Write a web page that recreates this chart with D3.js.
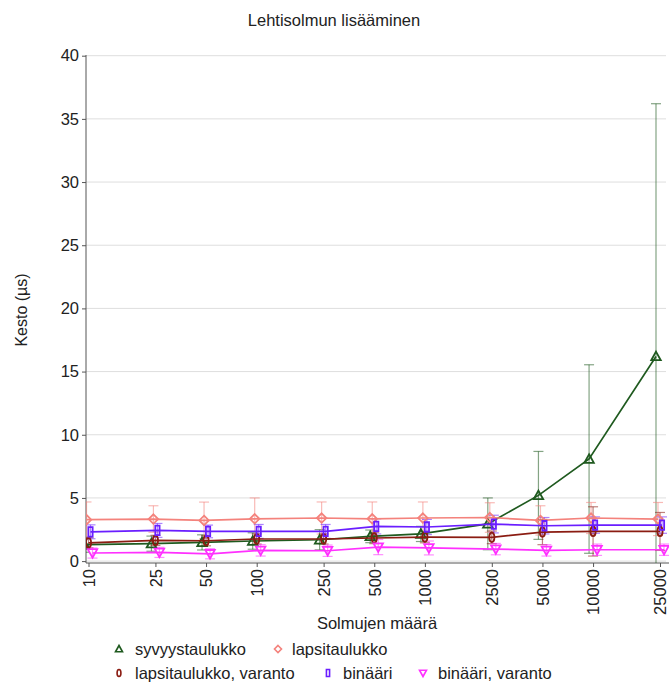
<!DOCTYPE html>
<html>
<head>
<meta charset="utf-8">
<script src="https://cdn.jsdelivr.net/npm/d3@7"></script>
<style>
  body { margin: 0; background: #fff; }
  svg { display: block; font-family: "Liberation Sans", Arial, sans-serif; }
</style>
</head>
<body>
<svg id="chart" width="669" height="682"></svg>
<script>
// Node counts on the x axis (log scale)
const nodeCounts = [10, 25, 50, 100, 250, 500, 1000, 2500, 5000, 10000, 25000];
const yTicks = [0, 5, 10, 15, 20, 25, 30, 35, 40];

// Mean durations (µs) and error half-widths per structure
const syvyysMean   = [1.30, 1.38, 1.48, 1.59, 1.69, 1.96, 2.15, 2.95, 5.20, 8.08, 16.2];
const syvyysErr    = [0.60, 0.60, 0.60, 0.65, 0.80, 0.50, 0.60, 2.05, 3.48, 7.46, 20.0];
const lapsiMean    = [3.28, 3.33, 3.22, 3.35, 3.41, 3.35, 3.41, 3.45, 3.22, 3.41, 3.33];
const lapsiErr     = [1.40, 1.05, 1.45, 1.65, 1.27, 1.33, 1.27, 1.17, 1.16, 1.23, 1.31];
const lapsiVarMean = [1.45, 1.64, 1.61, 1.75, 1.75, 1.83, 1.90, 1.88, 2.30, 2.35, 2.35];
const lapsiVarErr  = [0.40, 0.40, 0.40, 0.40, 0.40, 0.45, 0.45, 0.50, 1.00, 1.95, 1.50];
const binMean      = [2.32, 2.43, 2.35, 2.35, 2.35, 2.75, 2.70, 2.93, 2.80, 2.85, 2.85];
const binErr       = [0.55, 0.55, 0.50, 0.55, 0.55, 0.60, 0.60, 0.70, 0.65, 0.65, 0.65];
const binVarMean   = [0.64, 0.69, 0.58, 0.85, 0.82, 1.11, 1.04, 0.95, 0.85, 0.90, 0.90];
const binVarErr    = [0.40, 0.40, 0.40, 0.45, 0.45, 0.60, 0.55, 0.45, 0.45, 0.45, 0.45];

const seriesNames = ["syvyystaulukko", "lapsitaulukko", "lapsitaulukko, varanto", "binääri", "binääri, varanto"];
const seriesColors = ["#1f5a1f", "#f4827c", "#8b1c12", "#6a1eff", "#ff30ff"];
const seriesShapes = ["triUp", "diamond", "ellipse", "rect", "triDown"];

const series = seriesNames.map((name, i) => ({
  name,
  color: seriesColors[i],
  shape: seriesShapes[i],
  mean: [syvyysMean, lapsiMean, lapsiVarMean, binMean, binVarMean][i],
  err: [syvyysErr, lapsiErr, lapsiVarErr, binErr, binVarErr][i],
  dodge: (i - 2) * 2
}));

const svg = d3.select("#chart");
const plotLeft = 86, plotRight = 666, plotTop = 55, plotBottom = 563;

const x = d3.scaleLog().domain([10, 25000]).range([88.5, 660]);
const y = d3.scaleLinear().domain([-0.15, 40]).range([plotBottom, 55.7]);

// Title
svg.append("text").attr("x", 334).attr("y", 26).attr("text-anchor", "middle")
  .attr("font-size", 16.5).attr("fill", "#222").text("Lehtisolmun lisääminen");

// Gridlines
svg.append("g").selectAll("line").data(yTicks).join("line")
  .attr("x1", plotLeft).attr("x2", plotRight)
  .attr("y1", d => y(d)).attr("y2", d => y(d))
  .attr("stroke", "#dedede").attr("stroke-width", 1);

// Y axis
const yAxis = svg.append("g").attr("transform", `translate(${plotLeft},0)`)
  .call(d3.axisLeft(y).tickValues(yTicks).tickSize(4).tickPadding(3));
yAxis.select(".domain").attr("d", `M0,${plotTop}V${plotBottom}`).attr("stroke", "#555");
yAxis.selectAll(".tick line").attr("stroke", "#555");
yAxis.selectAll("text").attr("font-size", 16.5).attr("fill", "#222")
  .attr("font-family", "Liberation Sans, Arial, sans-serif");

// X axis
const xAxis = svg.append("g").attr("transform", `translate(0,${plotBottom})`)
  .call(d3.axisBottom(x).tickValues(nodeCounts).tickFormat(d3.format("d")).tickSize(4));
xAxis.select(".domain").attr("d", `M${plotLeft},0H669`).attr("stroke", "#555");
xAxis.selectAll(".tick line").attr("stroke", "#555");
xAxis.selectAll("text")
  .attr("font-size", 16.5).attr("fill", "#222")
  .attr("font-family", "Liberation Sans, Arial, sans-serif")
  .attr("transform", "rotate(-90)")
  .attr("text-anchor", "end")
  .attr("x", -6).attr("y", 0).attr("dy", "0.35em");

// Axis titles
svg.append("text").attr("x", 377).attr("y", 629).attr("text-anchor", "middle")
  .attr("font-size", 16.5).attr("fill", "#222").text("Solmujen määrä");
svg.append("text").attr("transform", "translate(27,310) rotate(-90)")
  .attr("text-anchor", "middle").attr("font-size", 16).attr("fill", "#222").text("Kesto (µs)");

// Clip to plot area
svg.append("defs").append("clipPath").attr("id", "plotClip")
  .append("rect").attr("x", plotLeft).attr("y", 0).attr("width", 669 - plotLeft).attr("height", plotBottom);

const plot = svg.append("g").attr("clip-path", "url(#plotClip)");

function markerPath(shape, s) {
  const h = s / 2;
  switch (shape) {
    case "triUp": return `M0,${-h}L${h},${h * 0.8}L${-h},${h * 0.8}Z`;
    case "triDown": return `M0,${h}L${h},${-h * 0.8}L${-h},${-h * 0.8}Z`;
    case "diamond": return `M0,${-h}L${h},0L0,${h}L${-h},0Z`;
    case "rect": return `M${-h * 0.45},${-h}H${h * 0.45}V${h}H${-h * 0.45}Z`;
    case "ellipse": {
      const rx = h * 0.55, ry = h;
      return `M0,${-ry}A${rx},${ry} 0 1,1 0,${ry}A${rx},${ry} 0 1,1 0,${-ry}Z`;
    }
  }
}

// Error bars
series.forEach(s => {
  const g = plot.append("g").attr("stroke", s.color).attr("stroke-opacity", 0.55).attr("stroke-width", 1.2);
  nodeCounts.forEach((n, i) => {
    const cx = x(n) + s.dodge;
    const y0 = y(s.mean[i] - s.err[i]), y1 = y(s.mean[i] + s.err[i]);
    g.append("line").attr("x1", cx).attr("x2", cx).attr("y1", y0).attr("y2", y1);
    g.append("line").attr("x1", cx - 5).attr("x2", cx + 5).attr("y1", y0).attr("y2", y0);
    g.append("line").attr("x1", cx - 5).attr("x2", cx + 5).attr("y1", y1).attr("y2", y1);
  });
});

// Lines and markers
const line = d3.line();
series.forEach(s => {
  const pts = nodeCounts.map((n, i) => [x(n) + s.dodge, y(s.mean[i])]);
  plot.append("path").attr("d", line(pts)).attr("fill", "none")
    .attr("stroke", s.color).attr("stroke-width", 1.7);
  plot.append("g").selectAll("path").data(pts).join("path")
    .attr("transform", d => `translate(${d[0]},${d[1]})`)
    .attr("d", markerPath(s.shape, 9.5))
    .attr("fill", "none").attr("stroke", s.color).attr("stroke-width", 1.8);
});

// Legend
const legendItems = [
  { i: 0, mx: 119, tx: 135, y: 649 },
  { i: 1, mx: 278, tx: 292, y: 649 },
  { i: 2, mx: 119, tx: 135, y: 673 },
  { i: 3, mx: 328, tx: 343, y: 673 },
  { i: 4, mx: 423, tx: 438, y: 673 }
];
const lg = svg.append("g");
legendItems.forEach(it => {
  const s = series[it.i];
  lg.append("path").attr("transform", `translate(${it.mx},${it.y})`)
    .attr("d", markerPath(s.shape, 7)).attr("fill", "none")
    .attr("stroke", s.color).attr("stroke-width", 1.6);
  lg.append("text").attr("x", it.tx).attr("y", it.y).attr("dy", "0.35em")
    .attr("font-size", 16.5).attr("fill", "#222").text(s.name);
});
</script>
</body>
</html>
